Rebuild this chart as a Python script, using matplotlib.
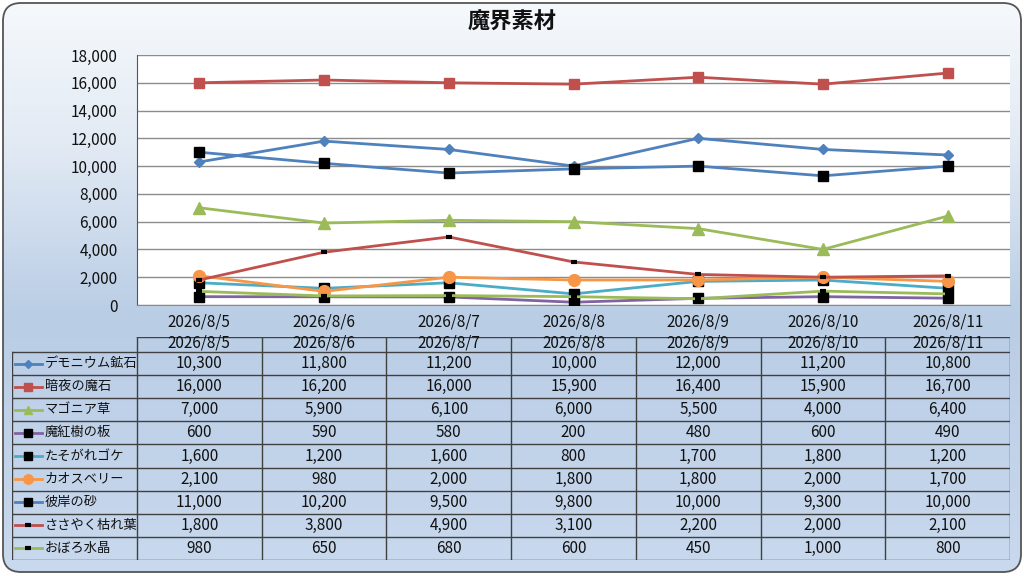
import numpy as np
import matplotlib
matplotlib.use("Agg")
import matplotlib.pyplot as plt
from matplotlib.patches import FancyBboxPatch
from matplotlib.colors import LinearSegmentedColormap

plt.rcParams['font.family'] = ['Noto Sans CJK JP', 'DejaVu Sans']

# ---- data ----
title = "魔界素材"
dates = ["2026/8/5", "2026/8/6", "2026/8/7", "2026/8/8", "2026/8/9", "2026/8/10", "2026/8/11"]
names = ["デモニウム鉱石", "暗夜の魔石", "マゴニア草", "魔紅樹の板", "たそがれゴケ",
         "カオスベリー", "彼岸の砂", "ささやく枯れ葉", "おぼろ水晶"]
demonium = [10300, 11800, 11200, 10000, 12000, 11200, 10800]
anya = [16000, 16200, 16000, 15900, 16400, 15900, 16700]
magonia = [7000, 5900, 6100, 6000, 5500, 4000, 6400]
makouju = [600, 590, 580, 200, 480, 600, 490]
tasogare = [1600, 1200, 1600, 800, 1700, 1800, 1200]
chaos = [2100, 980, 2000, 1800, 1800, 2000, 1700]
higan = [11000, 10200, 9500, 9800, 10000, 9300, 10000]
sasayaku = [1800, 3800, 4900, 3100, 2200, 2000, 2100]
oboro = [980, 650, 680, 600, 450, 1000, 800]
series = [demonium, anya, magonia, makouju, tasogare, chaos, higan, sasayaku, oboro]

# line colour, marker, marker colour, marker size, marker edge width
styles = [
    ("#4F81BD", "D", "#4F81BD", 5, 1),
    ("#C0504D", "s", "#C0504D", 7.5, 1),
    ("#9BBB59", "^", "#9BBB59", 8, 1),
    ("#8064A2", "s", "black", 7, 1),
    ("#4BACC6", "s", "black", 7, 1),
    ("#F79646", "o", "#F79646", 8.5, 1),
    ("#4F81BD", "s", "black", 7, 1),
    ("#C0504D", "_", "black", 5, 3),
    ("#9BBB59", "_", "black", 5, 3),
]

W, H = 1024, 576
fig = plt.figure(figsize=(W / 100, H / 100), dpi=100)


def px_axes(x0, y0, x1, y1, **kw):
    return fig.add_axes([x0 / W, 1 - y1 / H, (x1 - x0) / W, (y1 - y0) / H], **kw)


# ---- background with rounded frame ----
bg = px_axes(0, 0, W, H)
bg.set_xlim(0, W)
bg.set_ylim(H, 0)
bg.axis("off")
cmap = LinearSegmentedColormap.from_list(
    "bg", [(0, "#F6F9FC"), (0.25, "#E2EAF4"), (0.55, "#B9CDE5"), (1, "#C9D9EE")])
grad = np.linspace(0, 1, 256).reshape(-1, 1)
im = bg.imshow(grad, cmap=cmap, aspect="auto", extent=(0, W, H, 0), zorder=0)
frame = FancyBboxPatch((3, 3), W - 6, H - 7, boxstyle="round,pad=0,rounding_size=18",
                       fc="none", ec="#555555", lw=1.3, zorder=2)
bg.add_patch(frame)
im.set_clip_path(frame)

bg.text(W / 2, 22, title, ha="center", va="center", fontsize=16, fontweight="bold",
        color="#111111")

# ---- line chart ----
PL, PR, PT, PB = 137, 1010, 55, 305
ax = px_axes(PL, PT, PR, PB)
ax.set_facecolor("white")
x = np.arange(len(dates))
for vals, (lc, mk, mc, ms, mew) in zip(series, styles):
    ax.plot(x, vals, color=lc, lw=2, marker=mk, ms=ms, mfc=mc, mec=mc, mew=mew,
            zorder=3)
ax.set_xlim(-0.5, len(dates) - 0.5)
ax.set_ylim(0, 18000)
ax.set_yticks(np.arange(0, 18001, 2000))
ax.set_yticklabels([f"{v:,}" for v in range(0, 18001, 2000)])
ax.set_xticks(x)
ax.set_xticklabels(dates)
ax.yaxis.grid(True, color="#8C8C8C", lw=1)
ax.set_axisbelow(True)
for s in ["top", "right"]:
    ax.spines[s].set_visible(False)
ax.spines["left"].set_color("#555555")
ax.spines["bottom"].set_color("#8C8C8C")
ax.tick_params(axis="both", length=0, labelsize=11, colors="#111111")
ax.tick_params(axis="y", pad=14)
ax.tick_params(axis="x", pad=6)

# ---- data table ----
colw = (PR - PL) / len(dates)
TT, TB = 337, 560
head_h = 0.65
tab = px_axes(PL - colw, TT, PR, TB)
tab.set_xlim(-1.5, len(dates) - 0.5)
tab.set_ylim(len(names), -head_h)
tab.axis("off")
lc_tab = "#404040"
nrow = len(names)
# horizontal lines
tab.plot([-0.5, len(dates) - 0.5], [-head_h, -head_h], color=lc_tab, lw=1)
for r in range(nrow + 1):
    tab.plot([-1.5, len(dates) - 0.5], [r, r], color=lc_tab, lw=1)
# vertical lines
tab.plot([-1.5, -1.5], [0, nrow], color=lc_tab, lw=1)
for c in range(len(dates) + 1):
    tab.plot([c - 0.5, c - 0.5], [-head_h, nrow], color=lc_tab, lw=1)
for c, d in enumerate(dates):
    tab.text(c, -head_h / 2 - 0.08, d, ha="center", va="center", fontsize=11,
             color="#111111")
for r, (nm, vals, (lc, mk, mc, ms, mew)) in enumerate(zip(names, series, styles)):
    yc = r + 0.5
    tab.plot([-1.48, -1.26], [yc, yc], color=lc, lw=2)
    tab.plot([-1.37], [yc], marker=mk, ms=ms * 0.8, mfc=mc, mec=mc, mew=mew, color=lc)
    tab.text(-1.24, yc, nm, ha="left", va="center", fontsize=9.5, color="#111111")
    for c, v in enumerate(vals):
        tab.text(c, yc, f"{v:,}", ha="center", va="center", fontsize=11,
                 color="#111111")

fig.savefig("out.png", dpi=100)
